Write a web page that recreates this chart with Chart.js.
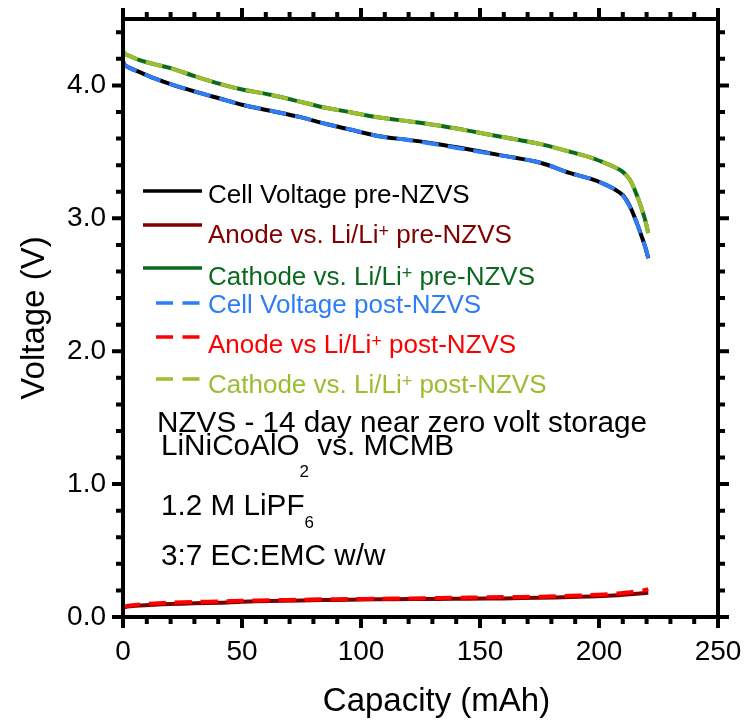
<!DOCTYPE html>
<html>
<head>
<meta charset="utf-8">
<script src="https://cdn.jsdelivr.net/npm/chart.js@4"></script>
<style>
  html, body { margin: 0; padding: 0; background: #fff; }
</style>
</head>
<body>
<canvas id="chart" width="755" height="721"></canvas>
<script>
  // discharge capacity (mAh) shared by all six traces
  var capacity = [0, 1, 3, 7, 13, 20, 30, 41, 50, 62, 75, 83, 95, 107, 120, 132, 145, 160, 175, 188, 196, 202, 206, 210, 213, 216, 218, 219.5, 220.7];

  var cellPre = [4.18, 4.15, 4.13, 4.10, 4.055, 4.01, 3.955, 3.90, 3.855, 3.81, 3.76, 3.72, 3.67, 3.62, 3.59, 3.56, 3.52, 3.47, 3.42, 3.34, 3.30, 3.26, 3.225, 3.175, 3.09, 2.96, 2.86, 2.78, 2.70];
  var anodePre = [0.07, 0.075, 0.08, 0.087, 0.093, 0.098, 0.103, 0.108, 0.115, 0.12, 0.125, 0.127, 0.13, 0.133, 0.135, 0.136, 0.137, 0.14, 0.145, 0.15, 0.154, 0.158, 0.162, 0.167, 0.171, 0.175, 0.178, 0.181, 0.184];
  var cathodePre = [4.26, 4.235, 4.22, 4.19, 4.16, 4.13, 4.07, 4.01, 3.97, 3.93, 3.875, 3.84, 3.80, 3.76, 3.73, 3.70, 3.66, 3.61, 3.56, 3.50, 3.46, 3.42, 3.39, 3.35, 3.29, 3.17, 3.07, 2.98, 2.89];
  var cellPost = [4.18, 4.15, 4.13, 4.10, 4.055, 4.01, 3.955, 3.90, 3.855, 3.81, 3.76, 3.72, 3.67, 3.62, 3.59, 3.555, 3.515, 3.47, 3.42, 3.34, 3.30, 3.26, 3.225, 3.17, 3.085, 2.96, 2.86, 2.78, 2.70];
  var anodePost = [0.075, 0.08, 0.087, 0.095, 0.102, 0.108, 0.113, 0.118, 0.122, 0.126, 0.13, 0.133, 0.135, 0.137, 0.14, 0.143, 0.146, 0.15, 0.153, 0.16, 0.165, 0.17, 0.175, 0.18, 0.187, 0.193, 0.198, 0.203, 0.21];
  var cathodePost = [4.26, 4.235, 4.22, 4.19, 4.16, 4.13, 4.07, 4.01, 3.97, 3.93, 3.875, 3.84, 3.80, 3.76, 3.73, 3.70, 3.66, 3.61, 3.56, 3.50, 3.46, 3.42, 3.39, 3.35, 3.29, 3.17, 3.07, 2.98, 2.89];

  var xMajorTicks = [0, 50, 100, 150, 200, 250];
  var xMinorTicks = [10, 20, 30, 40, 60, 70, 80, 90, 110, 120, 130, 140, 160, 170, 180, 190, 210, 220, 230, 240];
  var yMajorTicks = [0, 1, 2, 3, 4];
  var yMinorTicks = [0.2, 0.4, 0.6, 0.8, 1.2, 1.4, 1.6, 1.8, 2.2, 2.4, 2.6, 2.8, 3.2, 3.4, 3.6, 3.8, 4.2, 4.4];

  var xTitle = "Capacity (mAh)";
  var yTitle = "Voltage (V)";

  var FONT = "'Liberation Sans', Arial, sans-serif";

  var series = [
    { label: "Cell Voltage pre-NZVS", data: cellPre, color: "#000000", dashed: false },
    { label: "Anode vs. Li/Li+ pre-NZVS", data: anodePre, color: "#7f0000", dashed: false },
    { label: "Cathode vs. Li/Li+ pre-NZVS", data: cathodePre, color: "#0b6a1e", dashed: false },
    { label: "Cell Voltage post-NZVS", data: cellPost, color: "#2e7df6", dashed: true },
    { label: "Anode vs Li/Li+ post-NZVS", data: anodePost, color: "#ff0000", dashed: true },
    { label: "Cathode vs. Li/Li+ post-NZVS", data: cathodePost, color: "#9bbd2f", dashed: true }
  ];

  // legend text split into [text, mode, shift] runs; shift is in px from the baseline
  var legendRuns = [
    [["Cell Voltage pre-NZVS", ""]],
    [["Anode vs. Li/Li", ""], ["+", "sup", -6], [" pre-NZVS", ""]],
    [["Cathode vs. Li/Li", ""], ["+", "sup", -6], [" pre-NZVS", ""]],
    [["Cell Voltage post-NZVS", ""]],
    [["Anode vs Li/Li", ""], ["+", "sup", -6], [" post-NZVS", ""]],
    [["Cathode vs. Li/Li", ""], ["+", "sup", -6], [" post-NZVS", ""]]
  ];

  var noteRuns = [
    [["NZVS - 14 day near zero volt storage", ""]],
    [["LiNiCoAlO", ""], ["2", "sub", 22], [" vs. MCMB", ""]],
    [["1.2 M LiPF", ""], ["6", "sub", 13]],
    [["3:7 EC:EMC w/w", ""]]
  ];

  function toPoints(values) {
    return capacity.map(function (c, i) { return { x: c, y: values[i] }; });
  }

  function drawRuns(ctx, x, y, runs, size, small, color) {
    runs.forEach(function (run) {
      var text = run[0], mode = run[1];
      ctx.font = (mode ? small : size) + "px " + FONT;
      ctx.fillStyle = color;
      ctx.fillText(text, x, y + (run[2] || 0));
      x += ctx.measureText(text).width;
    });
  }

  function noEdgePadding(s) {
    s.paddingTop = 0;
    s.paddingBottom = 0;
    s.paddingLeft = 0;
    s.paddingRight = 0;
  }

  // box frame with outward major/minor ticks on all four sides
  var framePlugin = {
    id: "frame",
    afterDatasetsDraw: function (chart) {
      var ctx = chart.ctx;
      var a = chart.chartArea;
      var xs = chart.scales.x, ys = chart.scales.y;
      ctx.save();
      ctx.strokeStyle = "#000";
      ctx.lineWidth = 4;
      ctx.lineCap = "butt";
      ctx.strokeRect(a.left, a.top, a.right - a.left, a.bottom - a.top);

      function tickX(v, len) {
        var px = xs.getPixelForValue(v);
        ctx.beginPath();
        ctx.moveTo(px, a.bottom); ctx.lineTo(px, a.bottom + len);
        ctx.moveTo(px, a.top); ctx.lineTo(px, a.top - len);
        ctx.stroke();
      }
      function tickY(v, len) {
        var py = ys.getPixelForValue(v);
        ctx.beginPath();
        ctx.moveTo(a.left, py); ctx.lineTo(a.left - len, py);
        ctx.moveTo(a.right, py); ctx.lineTo(a.right + len, py);
        ctx.stroke();
      }
      xMajorTicks.forEach(function (v) { tickX(v, 11); });
      xMinorTicks.forEach(function (v) { tickX(v, 7); });
      yMajorTicks.forEach(function (v) { tickY(v, 11); });
      yMinorTicks.forEach(function (v) { tickY(v, 7); });
      ctx.restore();
    },
    afterDraw: function (chart) {
      var ctx = chart.ctx;
      var a = chart.chartArea;
      ctx.save();
      ctx.textBaseline = "alphabetic";
      ctx.textAlign = "left";

      var lineY = [172, 206, 249, 284, 318, 360];
      var textY = [184, 224, 266, 294, 334, 374];
      series.forEach(function (s, i) {
        ctx.beginPath();
        ctx.strokeStyle = s.color;
        ctx.lineWidth = 3.5;
        if (s.dashed) {
          ctx.setLineDash([17, 9.5]);
          ctx.moveTo(a.left + 33, a.top + lineY[i]);
          ctx.lineTo(a.left + 77, a.top + lineY[i]);
        } else {
          ctx.setLineDash([]);
          ctx.moveTo(a.left + 20, a.top + lineY[i]);
          ctx.lineTo(a.left + 79, a.top + lineY[i]);
        }
        ctx.stroke();
        ctx.setLineDash([]);
        drawRuns(ctx, a.left + 85, a.top + textY[i], legendRuns[i], 26, 18, s.color);
      });

      var noteX = [34, 38, 38, 38];
      var noteY = [413, 436, 496, 546];
      noteRuns.forEach(function (runs, i) {
        drawRuns(ctx, a.left + noteX[i], a.top + noteY[i], runs, 29.7, 17, "#000");
      });

      // x-axis title sits a little right of the plot centre
      ctx.font = "33px " + FONT;
      ctx.fillStyle = "#000";
      ctx.textAlign = "center";
      ctx.fillText(xTitle, (a.left + a.right) / 2 + 16, 711);
      ctx.restore();
    }
  };

  Chart.defaults.font.family = FONT;
  Chart.defaults.color = "#000";

  new Chart(document.getElementById("chart"), {
    type: "line",
    data: {
      datasets: series.map(function (s) {
        return {
          label: s.label,
          data: toPoints(s.data),
          borderColor: s.color,
          backgroundColor: s.color,
          borderWidth: 4,
          borderDash: s.dashed ? [17, 9] : [],
          pointRadius: 0,
          tension: 0.3,
          fill: false,
          order: s.dashed ? 1 : 2
        };
      })
    },
    options: {
      responsive: false,
      animation: false,
      devicePixelRatio: 1,
      layout: { padding: { top: 19, right: 37, bottom: 0, left: 0 } },
      plugins: {
        legend: { display: false },
        tooltip: { enabled: false }
      },
      scales: {
        x: {
          type: "linear",
          min: 0,
          max: 250,
          afterBuildTicks: function (s) { s.ticks = xMajorTicks.map(function (v) { return { value: v }; }); },
          afterFit: function (s) { s.height = 104; noEdgePadding(s); },
          grid: { display: false, drawTicks: false },
          border: { display: false },
          ticks: {
            padding: 18,
            maxRotation: 0,
            autoSkip: false,
            font: { size: 28 },
            color: "#000",
            callback: function (v) { return String(v); }
          },
          title: { display: false }
        },
        y: {
          type: "linear",
          min: 0,
          max: 4.5,
          afterBuildTicks: function (s) { s.ticks = yMajorTicks.map(function (v) { return { value: v }; }); },
          afterFit: function (s) { s.width = 123; noEdgePadding(s); },
          grid: { display: false, drawTicks: false },
          border: { display: false },
          ticks: {
            padding: 17,
            autoSkip: false,
            font: { size: 28 },
            color: "#000",
            callback: function (v) { return Number(v).toFixed(1); }
          },
          title: {
            display: true,
            text: yTitle,
            font: { size: 33 },
            color: "#000",
            padding: { top: 15, bottom: 0 }
          }
        }
      }
    },
    plugins: [framePlugin]
  });
</script>
</body>
</html>
